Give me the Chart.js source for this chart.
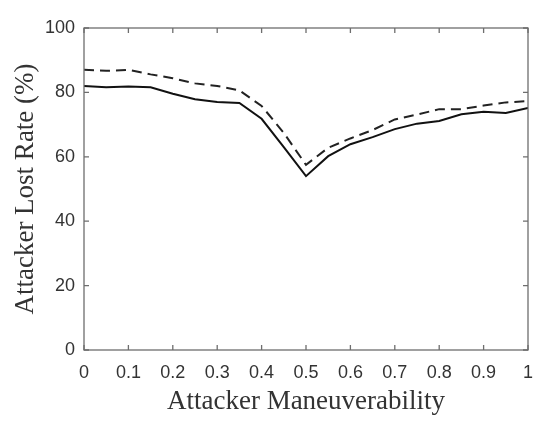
<!DOCTYPE html>
<html>
<head>
<meta charset="utf-8">
<script src="https://cdn.jsdelivr.net/npm/chart.js@4"></script>
<style>
  html, body { margin: 0; padding: 0; background: #fff; }
  #wrap { width: 550px; height: 423px; }
</style>
</head>
<body>
<div id="wrap"><canvas id="chart" width="550" height="423"></canvas></div>
<script>
// Maneuverability values along the x axis
const maneuverability = [0, 0.05, 0.1, 0.15, 0.2, 0.25, 0.3, 0.35, 0.4, 0.45, 0.5,
                         0.55, 0.6, 0.65, 0.7, 0.75, 0.8, 0.85, 0.9, 0.95, 1];
// Solid line
const lostRateSolid = [82.0, 81.6, 81.8, 81.6, 79.6, 77.9, 77.0, 76.7, 71.8, 63.0, 54.0,
                       60.2, 63.9, 66.1, 68.6, 70.3, 71.1, 73.2, 74.0, 73.6, 75.2];
// Dashed line
const lostRateDashed = [87.0, 86.7, 87.0, 85.6, 84.4, 82.8, 82.0, 80.6, 75.8, 67.4, 57.5,
                        62.8, 65.7, 68.3, 71.6, 73.1, 74.8, 74.8, 75.9, 76.9, 77.3];
const xTicks = [0, 0.1, 0.2, 0.3, 0.4, 0.5, 0.6, 0.7, 0.8, 0.9, 1];
const yTicks = [0, 20, 40, 60, 80, 100];

const axisColor = '#6e6e6e';

// Draws the matlab style box with inward ticks
const boxPlugin = {
    id: 'box',
    afterDatasetsDraw(c) {
        const ctx = c.ctx;
        const a = c.chartArea;
        const xs = c.scales.x, ys = c.scales.y;
        ctx.save();
        ctx.strokeStyle = axisColor;
        ctx.lineWidth = 1.3;
        ctx.strokeRect(a.left, a.top, a.right - a.left, a.bottom - a.top);
        const t = 5;
        ctx.beginPath();
        xTicks.forEach(v => {
            const px = xs.getPixelForValue(v);
            ctx.moveTo(px, a.bottom); ctx.lineTo(px, a.bottom - t);
            ctx.moveTo(px, a.top); ctx.lineTo(px, a.top + t);
        });
        yTicks.forEach(v => {
            const py = ys.getPixelForValue(v);
            ctx.moveTo(a.left, py); ctx.lineTo(a.left + t, py);
            ctx.moveTo(a.right, py); ctx.lineTo(a.right - t, py);
        });
        ctx.stroke();
        ctx.restore();
    }
};

const pad = { left: 8, right: 22, top: 28, bottom: 5 };

new Chart(document.getElementById('chart').getContext('2d'), {
    type: 'line',
    data: {
        datasets: [
            {
                data: maneuverability.map((x, i) => ({ x: x, y: lostRateDashed[i] })),
                borderColor: '#222',
                borderWidth: 2,
                borderDash: [10, 6],
                pointRadius: 0,
                tension: 0,
                fill: false
            },
            {
                data: maneuverability.map((x, i) => ({ x: x, y: lostRateSolid[i] })),
                borderColor: '#111',
                borderWidth: 2,
                pointRadius: 0,
                tension: 0,
                fill: false
            }
        ]
    },
    options: {
        responsive: false,
        animation: false,
        layout: { padding: pad },
        plugins: { legend: { display: false }, tooltip: { enabled: false } },
        scales: {
            x: {
                type: 'linear',
                min: 0,
                max: 1,
                afterBuildTicks: s => { s.ticks = xTicks.map(v => ({ value: v })); },
                afterFit: s => { s.height = 423 - 350 - pad.bottom; },
                border: { display: false },
                grid: { display: false, drawTicks: false },
                ticks: {
                    color: '#333',
                    font: { family: 'Liberation Sans', size: 18 },
                    padding: 12,
                    maxRotation: 0,
                    callback: v => String(v)
                },
                title: {
                    display: true,
                    text: 'Attacker Maneuverability',
                    color: '#333',
                    font: { family: 'Liberation Serif', size: 27 },
                    padding: { top: 0, bottom: 0 }
                }
            },
            y: {
                min: 0,
                max: 100,
                afterBuildTicks: s => { s.ticks = yTicks.map(v => ({ value: v })); },
                afterFit: s => { s.width = 84 - pad.left; },
                border: { display: false },
                grid: { display: false, drawTicks: false },
                ticks: {
                    color: '#333',
                    font: { family: 'Liberation Sans', size: 18 },
                    padding: 9
                },
                title: {
                    display: true,
                    text: 'Attacker Lost Rate (%)',
                    color: '#333',
                    font: { family: 'Liberation Serif', size: 27 },
                    padding: { top: 2, bottom: 4 }
                }
            }
        }
    },
    plugins: [boxPlugin]
});
</script>
</body>
</html>
